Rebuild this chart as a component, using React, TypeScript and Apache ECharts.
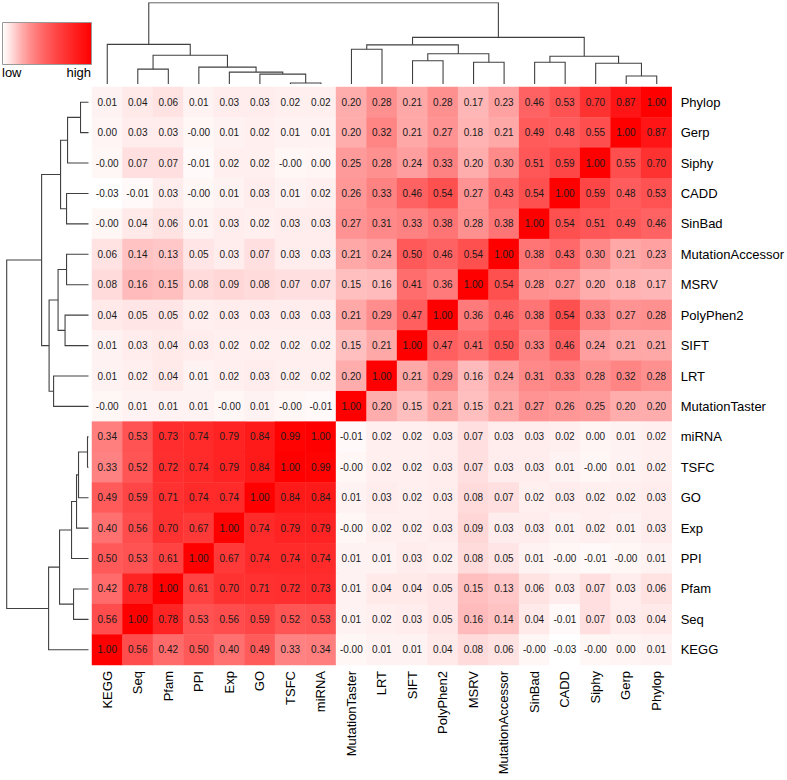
import React, { useEffect, useRef } from "react";
import * as echarts from "echarts";

// ---- Data ----
const columns = [
  "KEGG", "Seq", "Pfam", "PPI", "Exp", "GO", "TSFC", "miRNA",
  "MutationTaster", "LRT", "SIFT", "PolyPhen2", "MSRV", "MutationAccessor",
  "SinBad", "CADD", "Siphy", "Gerp", "Phylop",
];
const rows = [...columns].reverse();

// -0.001 stands for the printed "-0.00"
const rowPhylop = [0.01, 0.04, 0.06, 0.01, 0.03, 0.03, 0.02, 0.02, 0.20, 0.28, 0.21, 0.28, 0.17, 0.23, 0.46, 0.53, 0.70, 0.87, 1.00];
const rowGerp = [0.00, 0.03, 0.03, -0.001, 0.01, 0.02, 0.01, 0.01, 0.20, 0.32, 0.21, 0.27, 0.18, 0.21, 0.49, 0.48, 0.55, 1.00, 0.87];
const rowSiphy = [-0.001, 0.07, 0.07, -0.01, 0.02, 0.02, -0.001, 0.00, 0.25, 0.28, 0.24, 0.33, 0.20, 0.30, 0.51, 0.59, 1.00, 0.55, 0.70];
const rowCADD = [-0.03, -0.01, 0.03, -0.001, 0.01, 0.03, 0.01, 0.02, 0.26, 0.33, 0.46, 0.54, 0.27, 0.43, 0.54, 1.00, 0.59, 0.48, 0.53];
const rowSinBad = [-0.001, 0.04, 0.06, 0.01, 0.03, 0.02, 0.03, 0.03, 0.27, 0.31, 0.33, 0.38, 0.28, 0.38, 1.00, 0.54, 0.51, 0.49, 0.46];
const rowMutationAccessor = [0.06, 0.14, 0.13, 0.05, 0.03, 0.07, 0.03, 0.03, 0.21, 0.24, 0.50, 0.46, 0.54, 1.00, 0.38, 0.43, 0.30, 0.21, 0.23];
const rowMSRV = [0.08, 0.16, 0.15, 0.08, 0.09, 0.08, 0.07, 0.07, 0.15, 0.16, 0.41, 0.36, 1.00, 0.54, 0.28, 0.27, 0.20, 0.18, 0.17];
const rowPolyPhen2 = [0.04, 0.05, 0.05, 0.02, 0.03, 0.03, 0.03, 0.03, 0.21, 0.29, 0.47, 1.00, 0.36, 0.46, 0.38, 0.54, 0.33, 0.27, 0.28];
const rowSIFT = [0.01, 0.03, 0.04, 0.03, 0.02, 0.02, 0.02, 0.02, 0.15, 0.21, 1.00, 0.47, 0.41, 0.50, 0.33, 0.46, 0.24, 0.21, 0.21];
const rowLRT = [0.01, 0.02, 0.04, 0.01, 0.02, 0.03, 0.02, 0.02, 0.20, 1.00, 0.21, 0.29, 0.16, 0.24, 0.31, 0.33, 0.28, 0.32, 0.28];
const rowMutationTaster = [-0.001, 0.01, 0.01, 0.01, -0.001, 0.01, -0.001, -0.01, 1.00, 0.20, 0.15, 0.21, 0.15, 0.21, 0.27, 0.26, 0.25, 0.20, 0.20];
const rowMiRNA = [0.34, 0.53, 0.73, 0.74, 0.79, 0.84, 0.99, 1.00, -0.01, 0.02, 0.02, 0.03, 0.07, 0.03, 0.03, 0.02, 0.00, 0.01, 0.02];
const rowTSFC = [0.33, 0.52, 0.72, 0.74, 0.79, 0.84, 1.00, 0.99, -0.001, 0.02, 0.02, 0.03, 0.07, 0.03, 0.03, 0.01, -0.001, 0.01, 0.02];
const rowGO = [0.49, 0.59, 0.71, 0.74, 0.74, 1.00, 0.84, 0.84, 0.01, 0.03, 0.02, 0.03, 0.08, 0.07, 0.02, 0.03, 0.02, 0.02, 0.03];
const rowExp = [0.40, 0.56, 0.70, 0.67, 1.00, 0.74, 0.79, 0.79, -0.001, 0.02, 0.02, 0.03, 0.09, 0.03, 0.03, 0.01, 0.02, 0.01, 0.03];
const rowPPI = [0.50, 0.53, 0.61, 1.00, 0.67, 0.74, 0.74, 0.74, 0.01, 0.01, 0.03, 0.02, 0.08, 0.05, 0.01, -0.001, -0.01, -0.001, 0.01];
const rowPfam = [0.42, 0.78, 1.00, 0.61, 0.70, 0.71, 0.72, 0.73, 0.01, 0.04, 0.04, 0.05, 0.15, 0.13, 0.06, 0.03, 0.07, 0.03, 0.06];
const rowSeq = [0.56, 1.00, 0.78, 0.53, 0.56, 0.59, 0.52, 0.53, 0.01, 0.02, 0.03, 0.05, 0.16, 0.14, 0.04, -0.01, 0.07, 0.03, 0.04];
const rowKEGG = [1.00, 0.56, 0.42, 0.50, 0.40, 0.49, 0.33, 0.34, -0.001, 0.01, 0.01, 0.04, 0.08, 0.06, -0.001, -0.03, -0.001, 0.00, 0.01];

const matrix = [
  rowPhylop, rowGerp, rowSiphy, rowCADD, rowSinBad, rowMutationAccessor, rowMSRV,
  rowPolyPhen2, rowSIFT, rowLRT, rowMutationTaster, rowMiRNA, rowTSFC, rowGO,
  rowExp, rowPPI, rowPfam, rowSeq, rowKEGG,
];

// Hierarchical clustering merges: [childA, childB, height]
// string = leaf name, number = index of an earlier merge
const merges: Array<[string | number, string | number, number]> = [
  ["TSFC", "miRNA", 0.02],
  ["GO", 0, 0.2],
  ["Exp", 1, 0.24],
  ["PPI", 2, 0.34],
  ["Seq", "Pfam", 0.3],
  [4, 3, 0.58],
  ["KEGG", 5, 0.8],
  ["MutationTaster", "LRT", 0.7],
  ["SIFT", "PolyPhen2", 0.47],
  ["MSRV", "MutationAccessor", 0.44],
  [8, 9, 0.61],
  [7, 10, 0.79],
  ["SinBad", "CADD", 0.44],
  ["Gerp", "Phylop", 0.16],
  ["Siphy", 13, 0.42],
  [12, 14, 0.56],
  [11, 15, 0.94],
  [6, 16, 1.64],
];
const treeMaxHeight = 1.64;

// colour ramp (low -> high)
const rampColors = [
  "#ffffff", "#ffdede", "#ffb4b4", "#ff9090", "#ff7474", "#ff5c5c",
  "#ff4646", "#ff3434", "#ff2222", "#ff1111", "#ff0000",
];
const colorMin = -0.03;
const colorMax = 1.0;

const FONT = 'Arial, "Liberation Sans", Helvetica, sans-serif';

function dendroSegments(order: string[]) {
  const leafPos: Record<string, number> = {};
  order.forEach((n, i) => (leafPos[n] = i + 0.5));
  const nodePos: number[] = [];
  const nodeH: number[] = [];
  const segs: Array<Array<[number, number]>> = [];
  const get = (c: string | number): [number, number] =>
    typeof c === "string" ? [leafPos[c], 0] : [nodePos[c], nodeH[c]];
  merges.forEach(([a, b, h], k) => {
    const [pa, ha] = get(a);
    const [pb, hb] = get(b);
    nodePos[k] = (pa + pb) / 2;
    nodeH[k] = h;
    segs.push([[pa, ha], [pa, h], [pb, h], [pb, hb]]);
  });
  return segs;
}

export default function App() {
  const ref = useRef<HTMLDivElement>(null);
  useEffect(() => {
    if (!ref.current) return;
    const chart = echarts.init(ref.current, null, { renderer: "svg" });

    const heatData: Array<[number, number, number]> = [];
    matrix.forEach((row, r) => row.forEach((v, c) => heatData.push([c, r, v])));

    const topSegs = dendroSegments(columns).map((s) => ({ coords: s }));
    const leftSegs = dendroSegments(rows).map((s) => ({
      coords: s.map(([p, h]) => [h, p]),
    }));

    const gradStops = rampColors.map((c, i) => ({ offset: i / (rampColors.length - 1), color: c }));

    const hmLeft = 92, hmTop = 87, hmW = 580, hmH = 578;

    chart.setOption({
      animation: false,
      textStyle: { fontFamily: FONT },
      grid: [
        { left: hmLeft, top: hmTop, width: hmW, height: hmH },
        { left: hmLeft, top: 2.7, width: hmW, height: 81.3 },
        { left: 6.7, top: hmTop, width: 81.8, height: hmH },
      ],
      xAxis: [
        {
          type: "category", gridIndex: 0, data: columns, position: "bottom",
          axisLine: { show: false }, axisTick: { show: false }, splitLine: { show: false },
          axisLabel: { rotate: 90, fontSize: 13, color: "#000", margin: 6, interval: 0, fontFamily: FONT },
        },
        { type: "value", gridIndex: 1, min: 0, max: columns.length, show: false },
        { type: "value", gridIndex: 2, min: 0, max: treeMaxHeight, inverse: true, show: false },
      ],
      yAxis: [
        {
          type: "category", gridIndex: 0, data: rows, inverse: true, position: "right",
          axisLine: { show: false }, axisTick: { show: false }, splitLine: { show: false },
          axisLabel: { fontSize: 13, color: "#000", margin: 9, interval: 0, fontFamily: FONT },
        },
        { type: "value", gridIndex: 1, min: 0, max: treeMaxHeight, show: false },
        { type: "value", gridIndex: 2, min: 0, max: rows.length, inverse: true, show: false },
      ],
      visualMap: {
        show: false, type: "continuous", min: colorMin, max: colorMax, seriesIndex: 0,
        inRange: { color: rampColors },
      },
      graphic: [
        {
          type: "rect", left: 2, top: 22,
          shape: { x: 0, y: 0, width: 89, height: 42 },
          style: {
            fill: new echarts.graphic.LinearGradient(0, 0, 1, 0, gradStops),
            stroke: "#999", lineWidth: 1,
          },
        },
        { type: "text", left: 2, top: 66, style: { text: "low", fontSize: 13, fill: "#000", fontFamily: FONT } },
        { type: "text", right: 787 - 91, top: 66, style: { text: "high", fontSize: 13, fill: "#000", fontFamily: FONT } },
      ],
      series: [
        {
          type: "heatmap", xAxisIndex: 0, yAxisIndex: 0, data: heatData,
          label: {
            show: true, fontSize: 10, color: "#1a1a1a", fontFamily: FONT,
            formatter: (p: any) => (p.value[2] as number).toFixed(2),
          },
          itemStyle: { borderWidth: 0 },
          emphasis: { disabled: true },
          silent: true,
        },
        {
          type: "lines", coordinateSystem: "cartesian2d", xAxisIndex: 1, yAxisIndex: 1,
          polyline: true, data: topSegs, silent: true,
          lineStyle: { color: "#404040", width: 1.1, opacity: 1 },
        },
        {
          type: "lines", coordinateSystem: "cartesian2d", xAxisIndex: 2, yAxisIndex: 2,
          polyline: true, data: leftSegs, silent: true,
          lineStyle: { color: "#404040", width: 1.1, opacity: 1 },
        },
      ],
    });
    return () => chart.dispose();
  }, []);
  return (
    <div
      ref={ref}
      style={{ position: "fixed", left: 0, top: 0, width: 787, height: 780, background: "#fff" }}
    />
  );
}
